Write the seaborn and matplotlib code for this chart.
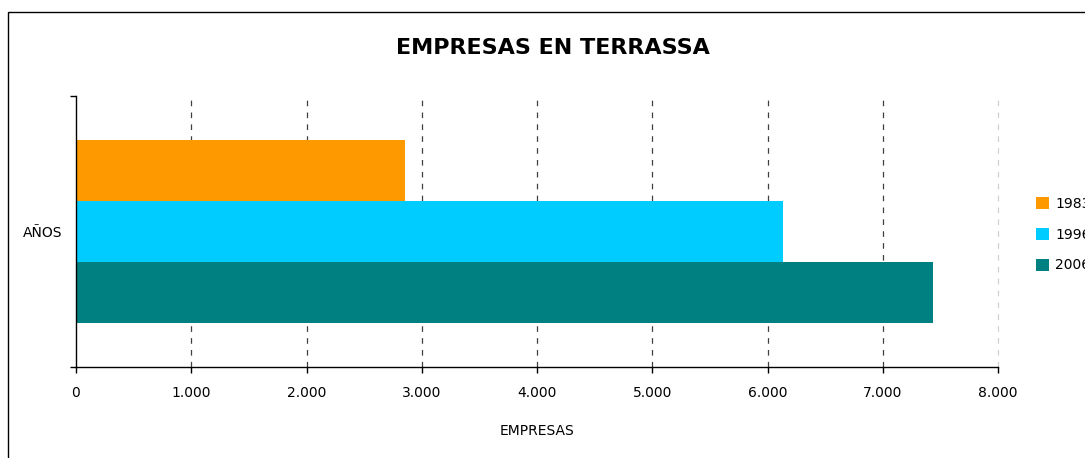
import pandas as pd
import seaborn as sns
import matplotlib.pyplot as plt
from matplotlib.patches import Rectangle

# datos
categoria = ["AÑOS"]
anios = ["1983", "1996", "2006"]
empresas = [2855, 6134, 7436]
ticks_x = [0, 1000, 2000, 3000, 4000, 5000, 6000, 7000, 8000]
etiquetas_x = ["0", "1.000", "2.000", "3.000", "4.000", "5.000", "6.000", "7.000", "8.000"]
colores = ["#FF9900", "#00CCFF", "#008080"]

df = pd.DataFrame({
    "cat": categoria * len(anios),
    "anio": anios,
    "empresas": empresas,
})

sns.set_style("white")
plt.rcParams["font.family"] = ["DejaVu Sans"]
plt.rcParams["text.color"] = "black"
plt.rcParams["xtick.color"] = "black"
plt.rcParams["ytick.color"] = "black"
plt.rcParams["axes.labelcolor"] = "black"

fig = plt.figure(figsize=(10.85, 4.58), dpi=100)
ax = fig.add_axes([76 / 1085, 1 - 367 / 458, (998 - 76) / 1085, (367 - 96) / 458])

sns.barplot(data=df, x="empresas", y="cat", hue="anio", palette=colores,
            orient="h", width=0.675, saturation=1, ax=ax, legend=True,
            linewidth=0, edgecolor="none")

ax.set_xlim(0, 8000)
ax.set_ylim(0.5, -0.5)

# grid vertical discontinuo
for t in ticks_x[1:-1]:
    ax.axvline(t, color="#404040", lw=0.9, ls=(0, (4.5, 5)), zorder=0)
ax.axvline(ticks_x[-1], color="#d0d0d0", lw=0.9, ls=(0, (4.5, 5)), zorder=0,
           clip_on=False)

ax.set_xticks(ticks_x)
ax.set_xticklabels(etiquetas_x, fontsize=10)
ax.tick_params(axis="x", bottom=True, direction="out", length=4, width=1,
               color="black", pad=10)
ax.set_yticks([0])
ax.set_yticklabels(categoria, fontsize=10)
ax.tick_params(axis="y", left=True, length=0, pad=10)
ax.set_yticks([-0.5, 0.5], minor=True)
ax.tick_params(axis="y", which="minor", left=True, direction="out", length=4,
               width=1, color="black")

for s in ["top", "right"]:
    ax.spines[s].set_visible(False)
for s in ["left", "bottom"]:
    ax.spines[s].set_color("black")
    ax.spines[s].set_linewidth(1)

ax.set_xlabel("EMPRESAS", fontsize=10, labelpad=17)
ax.set_ylabel("")

fig.text(0.51, 1 - 48 / 458, "EMPRESAS EN TERRASSA", ha="center", va="center",
         fontsize=16, fontweight="semibold", color="black")

leg = ax.legend(loc="upper left", bbox_to_anchor=(1036 / 1085, 1 - 197 / 458),
                bbox_transform=fig.transFigure, frameon=False, fontsize=10,
                handlelength=0.95, handleheight=0.95, handletextpad=0.45,
                labelspacing=1.2, borderaxespad=0, borderpad=0)

# marco exterior
fig.patches.append(Rectangle((8 / 1085, -0.05), 1.1, 1 - 12 / 458 + 0.05,
                             transform=fig.transFigure, fill=False,
                             edgecolor="black", lw=1))

plt.savefig("out.png", dpi=100)
